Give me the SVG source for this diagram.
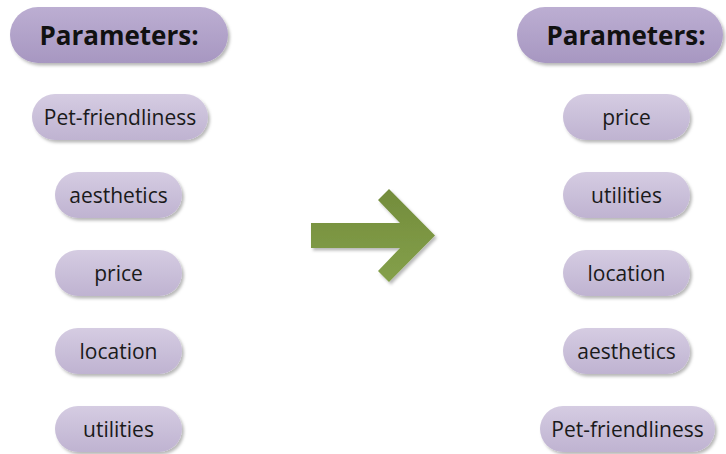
<svg xmlns="http://www.w3.org/2000/svg" width="726" height="454" viewBox="0 0 726 454">
<defs>
<linearGradient id="gSmall" x1="0" y1="0" x2="0" y2="1">
<stop offset="0" stop-color="#d5cce2"/>
<stop offset="1" stop-color="#bfb3d1"/>
</linearGradient>
<linearGradient id="gHead" x1="0" y1="0" x2="0" y2="1">
<stop offset="0" stop-color="#bcaed2"/>
<stop offset="1" stop-color="#a797c1"/>
</linearGradient>
<linearGradient id="gArrow" x1="0" y1="0" x2="0" y2="1">
<stop offset="0" stop-color="#738c3c"/>
<stop offset="1" stop-color="#84a04a"/>
</linearGradient>
<filter id="sh" x="-10%" y="-20%" width="130%" height="150%">
<feDropShadow dx="2" dy="2.5" stdDeviation="1.5" flood-color="#000" flood-opacity="0.28"/>
</filter>
</defs>
<style>
.pill{fill:url(#gSmall);filter:url(#sh)}
.head{fill:url(#gHead);filter:url(#sh)}
.t{font-family:"Open Sans","Liberation Sans",sans-serif;font-size:21px;fill:#1a1a1a;text-anchor:middle}
.h{font-family:"Open Sans","Liberation Sans",sans-serif;font-size:26px;font-weight:bold;fill:#111;text-anchor:middle}
</style>
<g id="left-header"><rect class="head" x="10" y="7" width="218" height="56" rx="28"/><text class="h" x="119" y="44.5">Parameters:</text></g>
<g id="left-pet"><rect class="pill" x="32" y="94" width="176" height="46" rx="23"/><text class="t" x="120" y="125">Pet-friendliness</text></g>
<g id="left-aesthetics"><rect class="pill" x="55" y="172" width="127" height="46" rx="23"/><text class="t" x="118.5" y="203">aesthetics</text></g>
<g id="left-price"><rect class="pill" x="55" y="250" width="127" height="46" rx="23"/><text class="t" x="118.5" y="281">price</text></g>
<g id="left-location"><rect class="pill" x="55" y="328" width="127" height="46" rx="23"/><text class="t" x="118.5" y="359">location</text></g>
<g id="left-utilities"><rect class="pill" x="55" y="406" width="127" height="46" rx="23"/><text class="t" x="118.5" y="437">utilities</text></g>
<g id="right-header"><rect class="head" x="517" y="7" width="206" height="56" rx="28"/><text class="h" x="626" y="44.5">Parameters:</text></g>
<g id="right-price"><rect class="pill" x="563" y="94" width="127" height="46" rx="23"/><text class="t" x="626.5" y="125">price</text></g>
<g id="right-utilities"><rect class="pill" x="563" y="172" width="127" height="46" rx="23"/><text class="t" x="626.5" y="203">utilities</text></g>
<g id="right-location"><rect class="pill" x="563" y="250" width="127" height="46" rx="23"/><text class="t" x="626.5" y="281">location</text></g>
<g id="right-aesthetics"><rect class="pill" x="563" y="328" width="127" height="46" rx="23"/><text class="t" x="626.5" y="359">aesthetics</text></g>
<g id="right-pet"><rect class="pill" x="540" y="406" width="175" height="46" rx="23"/><text class="t" x="627.5" y="437">Pet-friendliness</text></g>
<g id="connectors">
<polygon points="311,223 400,223 378,200 389,189 435,235.5 389,282 378,271 400,248 311,248" fill="url(#gArrow)" filter="url(#sh)"/>
</g>
</svg>
